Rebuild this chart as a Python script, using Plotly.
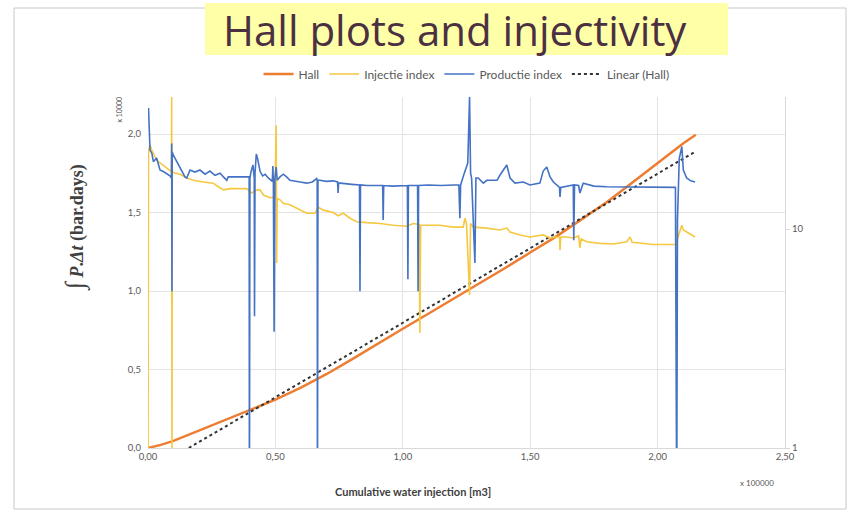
import plotly.graph_objects as go

# ---------------- data ----------------
# Cumulative water injection (x 100000 m3)
hall_x = [0, 0.05, 0.1, 0.2, 0.3, 0.4, 0.5, 0.6, 0.7, 0.8, 0.9, 1.0, 1.1, 1.2,
          1.3, 1.4, 1.5, 1.6, 1.7, 1.8, 1.9, 2.0, 2.1, 2.15]
# Integral P.dt (bar.days, x 10000)
hall_y = [0, 0.02, 0.045, 0.11, 0.175, 0.24, 0.308, 0.385, 0.47, 0.565, 0.665,
          0.76, 0.855, 0.95, 1.045, 1.145, 1.245, 1.345, 1.455, 1.565, 1.69,
          1.815, 1.94, 1.995]

lin_x = [0.16, 2.15]
lin_y = [0.0, 1.89]

inj_x = [0.0, 0.002, 0.008, 0.015, 0.034, 0.059, 0.086, 0.092, 0.093, 0.094, 0.095,
         0.106, 0.126, 0.152, 0.178, 0.217, 0.256, 0.276, 0.296, 0.322, 0.387,
         0.407, 0.427, 0.44, 0.453, 0.479, 0.498, 0.503, 0.505, 0.507, 0.518,
         0.531, 0.557, 0.597, 0.623, 0.655, 0.668, 0.688, 0.727, 0.746, 0.766,
         0.793, 0.819, 0.858, 0.911, 0.963, 1.015, 1.041, 1.064, 1.067, 1.07,
         1.146, 1.198, 1.237, 1.244, 1.25, 1.262, 1.266, 1.277, 1.329, 1.381,
         1.408, 1.421, 1.46, 1.499, 1.551, 1.578, 1.604, 1.615, 1.617, 1.62,
         1.643, 1.669, 1.69, 1.695, 1.7, 1.722, 1.774, 1.826, 1.879, 1.892,
         1.9, 1.983, 2.062, 2.073, 2.078, 2.095, 2.101, 2.114, 2.147]
inj_y = [0.5, 22.9, 24.2, 22.9, 20.6, 19.6, 18.6, 18.3, 40.1, 0.5, 18.3,
         18.0, 17.8, 17.1, 16.7, 16.4, 16.2, 15.6, 15.1, 15.3, 15.3,
         14.6, 15.1, 15.1, 14.3, 13.9, 14.0, 29.8, 7.0, 13.8, 13.6,
         13.1, 12.9, 12.2, 11.8, 11.8, 12.6, 12.2, 11.9, 11.5, 11.8,
         11.2, 10.8, 10.7, 10.6, 10.4, 10.3, 10.6, 10.5, 3.35, 10.4,
         10.4, 10.2, 10.2, 11.2, 10.6, 5.0, 10.6, 10.2, 10.1, 9.9,
         10.1, 9.7, 9.4, 9.2, 9.4, 9.1, 9.2, 9.2, 8.0, 9.2,
         9.2, 9.1, 9.3, 8.2, 9.0, 8.75, 8.6, 8.55, 8.75, 9.2,
         8.7, 8.5, 8.5, 8.5, 9.0, 10.4, 9.9, 9.7, 9.2]

prod_x = [0.002, 0.008, 0.015, 0.021, 0.034, 0.047, 0.06, 0.071, 0.086, 0.092,
          0.093, 0.094, 0.095, 0.099, 0.113, 0.132, 0.145, 0.152, 0.165, 0.184,
          0.204, 0.224, 0.243, 0.263, 0.283, 0.296, 0.309, 0.315, 0.392, 0.397,
          0.398, 0.4, 0.404, 0.412, 0.417, 0.418, 0.42, 0.425, 0.43, 0.44,
          0.45, 0.46, 0.47, 0.488, 0.49, 0.492, 0.495, 0.498, 0.503, 0.507,
          0.518, 0.531, 0.544, 0.557, 0.597, 0.623, 0.645, 0.662, 0.664, 0.665,
          0.667, 0.675, 0.7, 0.727, 0.744, 0.746, 0.748, 0.754, 0.8, 0.83,
          0.832, 0.834, 0.86, 0.91, 0.921, 0.923, 0.925, 0.96, 1.0, 1.018,
          1.02, 1.022, 1.05, 1.058, 1.06, 1.062, 1.1, 1.15, 1.2, 1.22,
          1.224, 1.227, 1.24, 1.255, 1.262, 1.266, 1.27, 1.283, 1.287, 1.296,
          1.316, 1.33, 1.37, 1.381, 1.408, 1.421, 1.44, 1.473, 1.499, 1.538,
          1.551, 1.565, 1.578, 1.591, 1.615, 1.617, 1.62, 1.669, 1.671, 1.674,
          1.69, 1.695, 1.708, 1.75, 1.8, 1.9, 2.0, 2.07, 2.075, 2.078,
          2.085, 2.095, 2.101, 2.114, 2.13, 2.147]
prod_y = [35.7, 22.9, 22.2, 20.3, 21.1, 18.6, 18.3, 18.0, 17.5, 17.1,
          24.6, 5.2, 22.5, 21.8, 20.3, 18.6, 17.3, 17.1, 18.6, 18.2,
          18.6, 17.8, 18.4, 17.6, 18.0, 17.3, 16.7, 17.3, 17.3, 17.3,
          0.5, 17.0, 18.2, 19.6, 17.0, 4.0, 18.0, 22.0, 21.0, 18.3,
          17.5, 17.8, 17.2, 16.5, 19.4, 16.5, 3.4, 16.9, 19.2, 16.7,
          17.3, 17.8, 17.3, 16.7, 16.4, 16.2, 16.4, 17.0, 16.8, 0.5,
          16.7, 16.7, 16.5, 16.6, 16.4, 14.6, 16.2, 16.2, 16.0, 15.9,
          5.2, 15.9, 15.8, 15.8, 15.8, 11.0, 15.8, 15.7, 15.8, 15.8,
          5.9, 15.8, 15.8, 15.8, 5.2, 15.8, 15.9, 15.8, 15.9, 15.9,
          11.2, 15.9, 17.8, 20.0, 40.1, 18.0, 17.1, 7.0, 17.1, 17.1,
          16.2, 16.7, 16.7, 17.6, 19.6, 17.1, 16.2, 16.4, 15.9, 16.2,
          18.4, 19.2, 17.3, 16.4, 15.5, 14.0, 15.5, 15.9, 8.9, 15.9,
          15.8, 14.6, 16.2, 15.7, 15.6, 15.6, 15.5, 15.5, 0.5, 11.0,
          21.0, 23.8, 18.6, 17.1, 16.6, 16.4]

x_ticks = [0, 0.5, 1.0, 1.5, 2.0, 2.5]
y_ticks = [0, 0.5, 1.0, 1.5, 2.0]
y2_ticks = [1, 10]

# ---------------- figure ----------------
W, H = 848, 514
L, R, T, B = 148, 63, 97, 66
PW, PH = W - L - R, H - T - B


def px(xp):
    return (xp - L) / PW


def py(yp):
    return (H - B - yp) / PH


FONT = "Lato"
GREY = "#595959"

fig = go.Figure()
fig.add_trace(go.Scatter(x=hall_x, y=hall_y, name="Hall", mode="lines",
                         line=dict(color="#ED7D31", width=2.5)))
fig.add_trace(go.Scatter(x=inj_x, y=inj_y, name="Injectie index", mode="lines",
                         yaxis="y2", line=dict(color="#F5C842", width=1.6)))
fig.add_trace(go.Scatter(x=prod_x, y=prod_y, name="Productie index", mode="lines",
                         yaxis="y2", line=dict(color="#4472C4", width=1.6)))
fig.add_trace(go.Scatter(x=lin_x, y=lin_y, name="Linear (Hall)", mode="lines",
                         line=dict(color="#333333", width=2, dash="dot")))

fig.update_layout(
    width=W, height=H,
    margin=dict(l=L, r=R, t=T, b=B),
    paper_bgcolor="white", plot_bgcolor="white",
    separators=",.",
    font=dict(family=FONT, size=9, color=GREY),
    showlegend=True,
    legend=dict(orientation="h", x=0.5, xanchor="center", y=py(74), yanchor="middle",
                font=dict(family=FONT, size=12, color=GREY), itemwidth=30,
                bgcolor="rgba(0,0,0,0)"),
    xaxis=dict(range=[0, 2.5], tickvals=x_ticks, tickformat=".2f",
               showgrid=True, gridcolor="#e3e3e3", gridwidth=1,
               showline=True, linecolor="#d9d9d9", zeroline=False,
               ticks="", tickfont=dict(size=9.5, color=GREY)),
    yaxis=dict(range=[0, 2.236], tickvals=y_ticks, tickformat=".1f",
               showgrid=True, gridcolor="#e3e3e3", gridwidth=1,
               showline=False, zeroline=False, ticks="",
               ticklabelstandoff=6, tickfont=dict(size=9.5, color=GREY)),
    yaxis2=dict(type="log", range=[0, 1.603], overlaying="y", side="right",
                tickvals=y2_ticks, ticktext=["1", "10"], showgrid=False,
                showline=True, linecolor="#d9d9d9", ticks="outside", ticklen=4,
                tickcolor="#d9d9d9", zeroline=False,
                tickfont=dict(size=9.5, color=GREY)),
)

# outer frame
fig.add_shape(type="rect", xref="paper", yref="paper",
              x0=px(14), x1=px(846), y0=py(509), y1=py(8),
              line=dict(color="#c8c8c8", width=1), layer="below")

# title box and text
fig.add_shape(type="rect", xref="paper", yref="paper",
              x0=px(205), x1=px(728), y0=py(55), y1=py(3),
              fillcolor="#FFFFA8", line=dict(width=0), layer="above")
fig.add_annotation(xref="paper", yref="paper", x=px(455), y=py(30),
                   text="Hall plots and injectivity", showarrow=False,
                   font=dict(family="Open Sans", size=42, color="#4b3042"),
                   xanchor="center", yanchor="middle")

# axis titles and unit labels
fig.add_annotation(xref="paper", yref="paper", x=px(75), y=py(228), textangle=-90,
                   text="<span style='font-size:26px'>∫</span> <b><i>P</i>.<i>Δt</i> (bar.days)</b>",
                   showarrow=False,
                   font=dict(family="Liberation Serif", size=18, color="#404040"),
                   xanchor="center", yanchor="middle")
fig.add_annotation(xref="paper", yref="paper", x=px(118.5), y=py(110), textangle=-90,
                   text="x 10000", showarrow=False,
                   font=dict(family=FONT, size=7, color=GREY),
                   xanchor="center", yanchor="middle")
fig.add_annotation(xref="paper", yref="paper", x=px(413), y=py(491),
                   text="<b>Cumulative water injection [m3]</b>", showarrow=False,
                   font=dict(family=FONT, size=11, color="#404040"),
                   xanchor="center", yanchor="middle")
fig.add_annotation(xref="paper", yref="paper", x=px(757), y=py(483),
                   text="x 100000", showarrow=False,
                   font=dict(family=FONT, size=8, color=GREY),
                   xanchor="center", yanchor="middle")

fig.write_html("out.html", config={"displayModeBar": False},
               post_script="document.body.style.margin='0';document.body.style.overflow='hidden';")
